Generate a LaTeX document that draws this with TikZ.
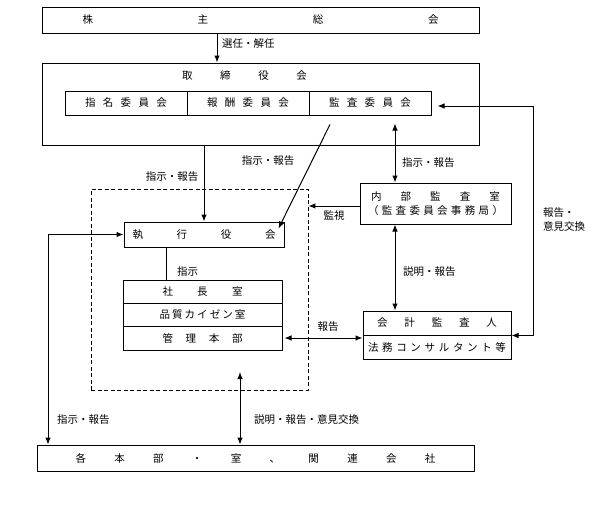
\documentclass[tikz,border=0pt]{standalone}
\usepackage{fontspec}
\setmainfont{Noto Sans CJK JP}
\usepackage{tikz}
\usetikzlibrary{arrows.meta}
\newcommand{\kintou}[2]{\makebox[#1][s]{#2}}

\begin{document}
\begin{tikzpicture}[x=1pt,y=-1pt,
        font=\fontsize{10.5}{12}\selectfont,
        box/.style={draw, line width=1pt, inner sep=0pt},
        lbl/.style={inner sep=0pt},
        arr/.style={line width=1pt, -{Latex[length=7pt,width=5.5pt]}},
        dbl/.style={line width=1pt, {Latex[length=7pt,width=5.5pt]}-{Latex[length=7pt,width=5.5pt]}}]
        \useasboundingbox (0,0) rectangle (613,506);

        % top
        \node[box, minimum width=437pt, minimum height=26pt] (soukai) at (260.5,20) {\kintou{356pt}{株\hfill 主\hfill 総\hfill 会}};
        \node[box, minimum width=437pt, minimum height=82pt] (torishimari) at (260.5,104) {};
        \node[lbl] (torititle) at (244.5,76) {\kintou{125pt}{取\hfill 締\hfill 役\hfill 会}};
        \node[box, minimum width=122pt, minimum height=24pt] (shimei) at (126,103) {\kintou{82pt}{指\hfill 名\hfill 委\hfill 員\hfill 会}};
        \node[box, minimum width=122pt, minimum height=24pt] (houshuu) at (248,103) {\kintou{82pt}{報\hfill 酬\hfill 委\hfill 員\hfill 会}};
        \node[box, minimum width=122pt, minimum height=24pt] (kansa) at (370,103) {\kintou{82pt}{監\hfill 査\hfill 委\hfill 員\hfill 会}};

        % executive block
        \node[box, dash pattern=on 4pt off 2.5pt, line width=0.9pt, minimum width=217pt, minimum height=201pt] (waku) at (199.5,289.5) {};
        \node[box, minimum width=160pt, minimum height=25pt] (shikkou) at (204,234.5) {\kintou{143pt}{執\hfill 行\hfill 役\hfill 会}};
        \node[box, minimum width=159pt, minimum height=23pt] (shachou) at (202.5,291.5) {\kintou{80pt}{社\hfill 長\hfill 室}};
        \node[box, minimum width=159pt, minimum height=23pt] (hinshitsu) at (202.5,314.5) {\kintou{86pt}{品\hfill 質\hfill カ\hfill イ\hfill ゼ\hfill ン\hfill 室}};
        \node[box, minimum width=159pt, minimum height=24pt] (kanri) at (202.5,338) {\kintou{80pt}{管\hfill 理\hfill 本\hfill 部}};

        % audit side
        \node[box, minimum width=151pt, minimum height=41pt, align=center, font=\fontsize{10.5}{14}\selectfont] (naibu) at (435.5,203.5)
            {\kintou{129pt}{内\hfill 部\hfill 監\hfill 査\hfill 室}\\\kintou{135pt}{（\hfill 監\hfill 査\hfill 委\hfill 員\hfill 会\hfill 事\hfill 務\hfill 局\hfill ）}};
        \node[box, minimum width=148pt, minimum height=24pt] (kaikeiA) at (437,323) {\kintou{120pt}{会\hfill 計\hfill 監\hfill 査\hfill 人}};
        \node[box, minimum width=148pt, minimum height=24pt] (kaikeiB) at (437,347) {\kintou{138pt}{法\hfill 務\hfill コ\hfill ン\hfill サ\hfill ル\hfill タ\hfill ン\hfill ト\hfill 等}};

        % bottom
        \node[box, minimum width=437pt, minimum height=26pt] (kakubu) at (255.5,458) {\kintou{360pt}{各\hfill 本\hfill 部\hfill ・\hfill 室\hfill 、\hfill 関\hfill 連\hfill 会\hfill 社}};

        % track points
        \coordinate (hidari) at (48,237);
        \coordinate (migi) at (533,106);
        \coordinate (naka) at (240,372);
        \coordinate (k1) at ([xshift=25pt,yshift=-8pt]kansa.south);
        \coordinate (d1) at ([xshift=-40pt,yshift=-9pt]kansa.south);
        \coordinate (s1) at ([xshift=-38pt]shikkou.south);

        % connectors
        \draw[arr] ([xshift=-43.5pt]soukai.south) -- ([xshift=-43.5pt]torishimari.north);
        \draw[arr] (torishimari.south -| shikkou.north) -- (shikkou.north);
        \draw[arr] (d1) -- ([xshift=-6pt,yshift=-7pt]shikkou.north east);
        \draw[dbl] (k1) -- (k1 |- naibu.north);
        \draw[arr] ([yshift=-2.5pt]naibu.west) -- ([yshift=-2.5pt]naibu.west -| waku.east);
        \draw[dbl] (naibu.south -| k1) -- (kaikeiA.north -| k1);
        \draw[dbl] ([xshift=6pt,yshift=-3pt]kansa.east) -- ([yshift=-3pt]kansa.east -| migi) -- (kaikeiA.south east -| migi) -- (kaikeiA.south east);
        \draw[dbl] ([xshift=2pt]kanri.east) -- (kanri.east -| kaikeiB.west);
        \draw[dbl] (shikkou.west) -- (shikkou.west -| hidari) -- (hidari |- kakubu.north);
        \draw[dbl] (naka) -- (naka |- kakubu.north);
        \draw[line width=1pt] (s1) -- (s1 |- shachou.north);

        % labels
        \node[lbl, anchor=west] (l_sennin) at (222,44) {選任・解任};
        \node[lbl] (l_shiji1) at (172,177) {指示・報告};
        \node[lbl] (l_shiji2) at (268,161) {指示・報告};
        \node[lbl, anchor=west] (l_shiji3) at (402,163) {指示・報告};
        \node[lbl] (l_kanshi) at (334,216) {監視};
        \node[lbl, anchor=west] (l_setsumei) at (403,272) {説明・報告};
        \node[lbl, anchor=west, align=left, font=\fontsize{10.5}{14}\selectfont] (l_iken) at (543,220) {報告・\\意見交換};
        \node[lbl, anchor=west] (l_shiji4) at (177,272) {指示};
        \node[lbl] (l_houkoku) at (328,327) {報告};
        \node[lbl, anchor=west] (l_shiji5) at (57,420) {指示・報告};
        \node[lbl, anchor=west] (l_koukan) at (254,420) {説明・報告・意見交換};
\end{tikzpicture}
\end{document}
